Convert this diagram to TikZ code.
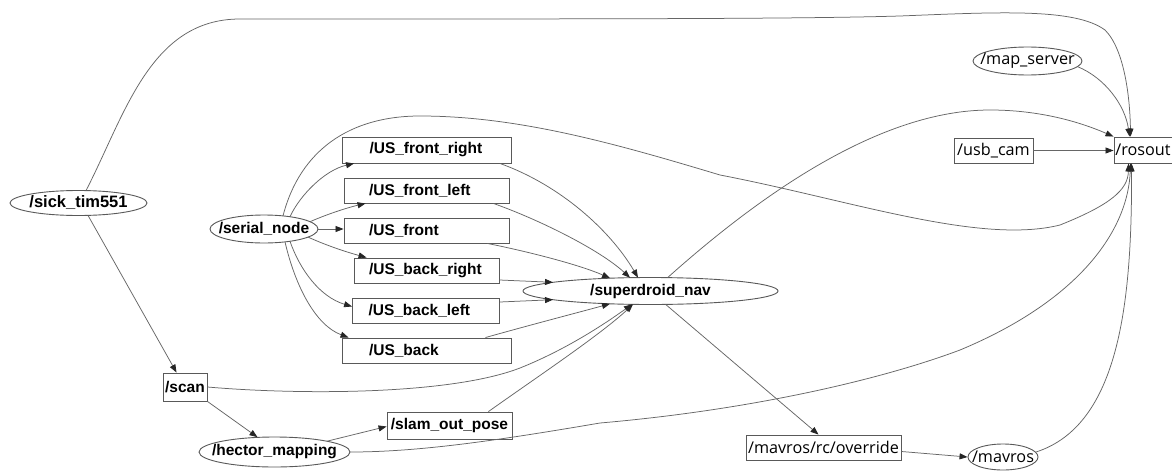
\documentclass[tikz,border=0pt]{standalone}
\usepackage{fontspec}
\setmainfont{Liberation Sans}
\newfontfamily\rfont{Open Sans}
\usetikzlibrary{arrows.meta,shapes.geometric,calc}
\newcommand{\zb}[1]{\makebox[0pt]{#1}}
\begin{document}
\begin{tikzpicture}[x=1pt,y=-1pt,
  nd/.style={draw=black!65, line width=0.9pt, inner sep=0pt, font=\bfseries\fontsize{15.5}{18}\selectfont},
  ell/.style={nd, ellipse},
  bx/.style={nd, rectangle},
  rnd/.style={font=\rfont\fontsize{16.2}{19}\selectfont},
  usb/.style={bx, text width=115pt, align=left, minimum height=25pt, inner ysep=0pt},
  edge/.style={draw=black!60, line width=0.75pt, -{Triangle[length=8pt,width=6pt,color=black!85]}}
]
\useasboundingbox (0,0) rectangle (1172,471);
\fill[white] (0,0) rectangle (1172,471);

% nodes
\node[ell, minimum width=137pt, minimum height=25pt, font=\bfseries\fontsize{16.5}{19}\selectfont] (sick) at (78.5,203) {\zb{/sick\_tim551}};
\node[ell, minimum width=108pt, minimum height=28pt] (serial) at (264,229) {\zb{/serial\_node}};
\node[usb, inner xsep=27pt, minimum height=26pt] (ufr) at (427,150) {/US\_front\_right};
\node[usb, inner xsep=25pt] (ufl) at (426.5,190.5) {/US\_front\_left};
\node[usb, inner xsep=25pt] (uf) at (426.5,230.5) {/US\_front};
\node[usb, inner xsep=15pt] (ubr) at (426.5,270.5) {/US\_back\_right};
\node[usb, inner xsep=16pt] (ubl) at (426,310.5) {/US\_back\_left};
\node[usb, inner xsep=27pt] (ub) at (426.5,350.5) {/US\_back};
\node[ell, minimum width=255pt, minimum height=27pt] (sdn) at (650.5,291) {\zb{/superdroid\_nav}};
\node[bx, minimum width=44pt, minimum height=28pt] (scan) at (185,387) {/scan};
\node[ell, minimum width=151pt, minimum height=30pt] (hector) at (274.5,452) {\zb{/hector\_mapping}};
\node[bx, minimum width=125pt, minimum height=27pt] (slam) at (449.5,425.5) {/slam\_out\_pose};
\node[bx, rnd, minimum width=155pt, minimum height=25pt] (override) at (823.5,447.5) {/mavros/rc/override};
\node[ell, rnd, minimum width=70pt, minimum height=26pt] (mavros) at (1003,457) {\zb{/mavros}};
\node[ell, rnd, minimum width=109pt, minimum height=28pt] (mapsrv) at (1027.5,61) {\zb{/map\_server}};
\node[bx, rnd, minimum width=79pt, minimum height=25pt] (usbcam) at (993.5,150.5) {/usb\_cam};
\node[bx, rnd, minimum width=58pt, minimum height=26pt] (rosout) at (1143,150) {/rosout};

% edges to rosout
\draw[edge] ($(sick)+(7.5,-12.4)$) .. controls (125,115) and (150,19) .. (240,19)
  .. controls (600,19) and (800,19) .. (900,16)
  .. controls (1000,12) and (1075,8) .. (1105,30)
  .. controls (1125,50) and (1130,100) .. ($(rosout.north west)+(17,0)$);
\draw[edge] ($(mapsrv)+(50,5.6)$) .. controls (1105,78) and (1125,105) .. ($(rosout.north west)+(16,0)$);
\draw[edge] (usbcam.east) -- (usbcam.east -| rosout.west);
\draw[edge] ($(sdn)+(17,-13.3)$) .. controls (760,195) and (880,110) .. (990,110)
  .. controls (1040,110) and (1080,122) .. (rosout.north west);
\draw[edge] ($(serial)+(19,-13.1)$) .. controls (300,150) and (350,116) .. (420,116)
  .. controls (520,116) and (620,145) .. (720,175)
  .. controls (850,200) and (980,245) .. (1060,225)
  .. controls (1110,205) and (1128,190) .. ($(rosout.south west)+(15,0)$);
\draw[edge] (hector.east) .. controls (420,452) and (500,440) .. (600,423)
  .. controls (750,410) and (880,380) .. (960,350)
  .. controls (1080,300) and (1128,230) .. ($(rosout.south west)+(17,0)$);
\draw[edge] ($(mavros)+(33,-5)$) .. controls (1120,425) and (1132,300) .. ($(rosout.south west)+(18,0)$);

% superdroid_nav out
\draw[edge] ($(sdn)+(15,13.3)$) -- ($(override.north)+(-5,0)$);
\draw[edge] ($(override.east)+(0,4)$) -- (mavros.west);

% sick / scan / hector / slam
\draw[edge] ($(sick)+(9.5,12.4)$) -- ($(scan.north west)+(14,0)$);
\draw[edge] (scan.south east) -- ($(hector)+(-17,-14.8)$);
\draw[edge] ($(hector)+(52.5,-10.8)$) -- ($(slam.west)+(0,1)$);
\draw[edge] (scan.east) .. controls (300,395) and (450,395) .. (520,368)
  .. controls (570,348) and (610,320) .. ($(sdn)+(-18.5,13.4)$);
\draw[edge] ($(slam.north east)+(-24,0)$) .. controls (540,375) and (600,335) .. ($(sdn)+(-17.5,13.4)$);

% serial_node to US
\draw[edge] ($(serial)+(26,-12.3)$) .. controls (300,195) and (325,170) .. ($(ufr.south west)+(12,0)$);
\draw[edge] ($(serial)+(46,-7.3)$) .. controls (330,213) and (350,207) .. ($(ufl.south west)+(22,0)$);
\draw[edge] (serial.east) -- (serial.east -| uf.west);
\draw[edge] ($(serial)+(44,8.1)$) .. controls (330,247) and (350,253) .. ($(ubr.north west)+(13,0)$);
\draw[edge] ($(serial)+(26,12.3)$) .. controls (300,270) and (320,297) .. ($(ubl.west)+(0,-4)$);
\draw[edge] ($(serial)+(21,12.9)$) .. controls (295,285) and (315,325) .. ($(ub.north west)+(7,0)$);

% US to superdroid_nav
\draw[edge] ($(ufr.south east)+(-12,0)$) .. controls (560,185) and (610,230) .. ($(sdn)+(-12.5,-13.4)$);
\draw[edge] ($(ufl.south east)+(-16,0)$) .. controls (540,220) and (600,250) .. ($(sdn)+(-20.5,-13.3)$);
\draw[edge] ($(uf.south east)+(-22,0)$) .. controls (530,252) and (580,265) .. ($(sdn)+(-40.5,-12.8)$);
\draw[edge] ($(ubr.east)+(0,9.5)$) -- ($(sdn)+(-97.5,-8.7)$);
\draw[edge] ($(ubl.east)+(0,-8.5)$) -- ($(sdn)+(-97.5,8.7)$);
\draw[edge] ($(ub.north east)+(-26,0)$) .. controls (530,325) and (580,312) .. ($(sdn)+(-40.5,12.8)$);
\end{tikzpicture}
\end{document}
